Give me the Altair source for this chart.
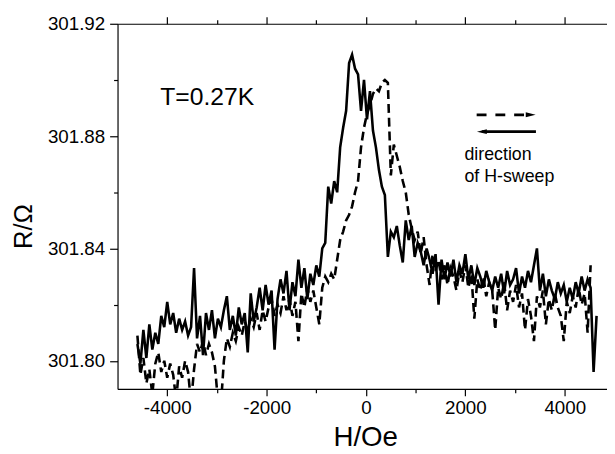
import altair as alt
import pandas as pd

FONT = "Liberation Sans"

# field sweep grid (Oe)
H_START = -4600
H_STEP = 60

# solid curve (sweep towards negative H)
R_solid = [
    301.806, 301.799, 301.811, 301.801, 301.813, 301.804, 301.810, 301.806, 301.816, 301.812,
    301.821, 301.813, 301.817, 301.810, 301.815, 301.811, 301.814, 301.809, 301.812, 301.833,
    301.808, 301.816, 301.802, 301.817, 301.811, 301.818, 301.808, 301.815, 301.812, 301.818,
    301.823, 301.811, 301.816, 301.809, 301.819, 301.813, 301.817, 301.803, 301.824, 301.814,
    301.819, 301.826, 301.818, 301.827, 301.820, 301.825, 301.804, 301.822, 301.829, 301.824,
    301.832, 301.818, 301.828, 301.823, 301.836, 301.826, 301.833, 301.822, 301.831, 301.827,
    301.834, 301.830, 301.840, 301.842, 301.862, 301.856, 301.864, 301.860, 301.876, 301.883,
    301.889, 301.906, 301.909, 301.904, 301.902, 301.889, 301.900, 301.886, 301.896, 301.882,
    301.876, 301.868, 301.862, 301.859, 301.837, 301.846, 301.844, 301.848, 301.841, 301.835,
    301.850, 301.843, 301.848, 301.837, 301.842, 301.839, 301.834, 301.840, 301.836, 301.831,
    301.838, 301.820, 301.836, 301.829, 301.835, 301.830, 301.836, 301.828, 301.834, 301.831,
    301.838, 301.829, 301.834, 301.827, 301.833, 301.830, 301.826, 301.832, 301.828, 301.825,
    301.830, 301.826, 301.831, 301.824, 301.832, 301.827, 301.829, 301.833, 301.824, 301.830,
    301.826, 301.832, 301.828, 301.834, 301.840, 301.825, 301.831, 301.823, 301.829, 301.825,
    301.822, 301.828, 301.824, 301.827, 301.821, 301.826, 301.822, 301.828, 301.824, 301.830,
    301.825, 301.829, 301.826, 301.796, 301.816,
]

# dashed curve (sweep towards positive H)
R_dashed = [
    301.809, 301.795, 301.801, 301.792, 301.797, 301.788, 301.799, 301.803, 301.796, 301.800,
    301.794, 301.799, 301.795, 301.786, 301.798, 301.794, 301.800, 301.796, 301.785, 301.797,
    301.806, 301.803, 301.807, 301.802, 301.806, 301.803, 301.798, 301.786, 301.784, 301.800,
    301.808, 301.805, 301.810, 301.807, 301.812, 301.809, 301.814, 301.811, 301.815, 301.812,
    301.817, 301.811, 301.818, 301.814, 301.819, 301.822, 301.816, 301.820, 301.817, 301.823,
    301.818, 301.822, 301.816, 301.821, 301.807, 301.824, 301.819, 301.826, 301.821, 301.825,
    301.819, 301.813, 301.826, 301.830, 301.828, 301.831, 301.829, 301.836, 301.843, 301.846,
    301.850, 301.852, 301.855, 301.860, 301.864, 301.876, 301.883, 301.888, 301.891, 301.895,
    301.897, 301.896, 301.899, 301.900, 301.899, 301.866, 301.877, 301.873, 301.869, 301.864,
    301.860, 301.852, 301.847, 301.843, 301.846, 301.838, 301.844, 301.834, 301.827, 301.838,
    301.832, 301.836, 301.829, 301.834, 301.827, 301.833, 301.830, 301.825, 301.832, 301.828,
    301.834, 301.826, 301.831, 301.815, 301.829, 301.825, 301.830, 301.823, 301.828, 301.825,
    301.811, 301.826, 301.822, 301.828, 301.818, 301.825, 301.821, 301.827, 301.819, 301.824,
    301.811, 301.822, 301.816, 301.807, 301.823, 301.819, 301.825, 301.813, 301.822, 301.818,
    301.824, 301.819, 301.816, 301.807, 301.821, 301.817, 301.823, 301.819, 301.826, 301.820,
    301.824, 301.810, 301.834,
]

X_MAJOR = [-4000, -2000, 0, 2000, 4000]
X_MINOR = [-3000, -1000, 1000, 3000]
Y_MAJOR = [301.80, 301.84, 301.88, 301.92]
Y_MINOR = [301.82, 301.86, 301.90]
X_DOMAIN = [-5000, 4850]
Y_DOMAIN = [301.79, 301.92]

# annotations
T_LABEL = ["T=0.27K"]
T_H = [-4141]
T_R = [301.8911]
NOTE_TEXT = ["direction", "of H-sweep"]
NOTE_H = [1982, 1982]
NOTE_R = [301.8714, 301.8638]
ARROW_H1 = [2227, 2332]
ARROW_H2 = [3314, 3420]
ARROW_R = [301.8876, 301.8816]
HEAD_H = [3314, 2332]

H_solid = [H_START + H_STEP * i for i in range(len(R_solid))]
H_dashed = [H_START + H_STEP * i for i in range(len(R_dashed))]

df_solid = pd.DataFrame({"H": H_solid, "R": R_solid})
df_dashed = pd.DataFrame({"H": H_dashed, "R": R_dashed})
df_t = pd.DataFrame({"H": T_H, "R": T_R, "text": T_LABEL})
df_note = pd.DataFrame({"H": NOTE_H, "R": NOTE_R, "text": NOTE_TEXT})
df_dash_arrow = pd.DataFrame({"H": [ARROW_H1[0]], "H2": [ARROW_H2[0]], "R": [ARROW_R[0]]})
df_solid_arrow = pd.DataFrame({"H": [ARROW_H1[1]], "H2": [ARROW_H2[1]], "R": [ARROW_R[1]]})
df_head_r = pd.DataFrame({"H": [HEAD_H[0]], "R": [ARROW_R[0]]})
df_head_l = pd.DataFrame({"H": [HEAD_H[1]], "R": [ARROW_R[1]]})

xs = alt.Scale(domain=X_DOMAIN, nice=False, zero=False)
ys = alt.Scale(domain=Y_DOMAIN, nice=False, zero=False)

common = dict(grid=False, domainColor="black", tickColor="black", domainWidth=1.2,
              tickWidth=1.2, labelColor="black", labelFont=FONT, titleFont=FONT,
              titleColor="black", titleFontWeight="normal", labelFlush=False,
              labelOverlap=False)

x_major = alt.Axis(orient="bottom", values=X_MAJOR, title="H/Oe",
                   labelExpr="datum.value < 0 ? '-' + format(-datum.value, 'd') : format(datum.value, 'd')",
                   labelFontSize=19, labelPadding=3, tickSize=7,
                   titleFontSize=28, titleX=251, titleY=57, titleAlign="center",
                   titleBaseline="alphabetic", **common)
x_minor = alt.Axis(orient="bottom", values=X_MINOR, title="", labels=False,
                   domain=False, tickSize=4, **common)
x_top_major = alt.Axis(orient="top", values=X_MAJOR, title="", labels=False,
                       tickSize=7, **common)
x_top_minor = alt.Axis(orient="top", values=X_MINOR, title="", labels=False,
                       domain=False, tickSize=4, **common)
y_major = alt.Axis(orient="left", values=Y_MAJOR, format=".2f", title="R/Ω",
                   labelFontSize=19, labelPadding=5, tickSize=8,
                   titleFontSize=26, titleX=-87, titleY=205, titleAngle=270,
                   titleAlign="center", titleBaseline="alphabetic", **common)
y_minor = alt.Axis(orient="left", values=Y_MINOR, title="", labels=False,
                   domain=False, tickSize=4, **common)

solid = alt.Chart(df_solid).mark_line(color="black", strokeWidth=2.6, clip=True).encode(
    x=alt.X("H:Q", scale=xs, axis=x_major),
    y=alt.Y("R:Q", scale=ys, axis=y_major),
)
dashed = alt.Chart(df_dashed).mark_line(color="black", strokeWidth=2.6, clip=True,
                                        strokeDash=[9, 5]).encode(
    x=alt.X("H:Q", scale=xs, axis=x_minor),
    y=alt.Y("R:Q", scale=ys, axis=y_minor),
)
t_text = alt.Chart(df_t).mark_text(font=FONT, fontSize=25, align="left",
                                   baseline="alphabetic", color="black").encode(
    x=alt.X("H:Q", scale=xs, axis=x_top_major),
    y=alt.Y("R:Q", scale=ys, axis=None),
    text="text:N",
)
note = alt.Chart(df_note).mark_text(font=FONT, fontSize=18, align="left",
                                    baseline="alphabetic", color="black").encode(
    x=alt.X("H:Q", scale=xs, axis=x_top_minor),
    y=alt.Y("R:Q", scale=ys, axis=None),
    text="text:N",
)
arrow_d = alt.Chart(df_dash_arrow).mark_rule(color="black", strokeWidth=2.8,
                                             strokeDash=[10, 9]).encode(
    x=alt.X("H:Q", scale=xs, axis=None), x2="H2:Q",
    y=alt.Y("R:Q", scale=ys, axis=None),
)
arrow_s = alt.Chart(df_solid_arrow).mark_rule(color="black", strokeWidth=2.8).encode(
    x=alt.X("H:Q", scale=xs, axis=None), x2="H2:Q",
    y=alt.Y("R:Q", scale=ys, axis=None),
)
head_r = alt.Chart(df_head_r).mark_point(shape="M-1,-0.5L1,0L-1,0.5Z", filled=True,
                                         color="black", opacity=1, size=100).encode(
    x=alt.X("H:Q", scale=xs, axis=None),
    y=alt.Y("R:Q", scale=ys, axis=None),
)
head_l = alt.Chart(df_head_l).mark_point(shape="M1,-0.5L-1,0L1,0.5Z", filled=True,
                                         color="black", opacity=1, size=100).encode(
    x=alt.X("H:Q", scale=xs, axis=None),
    y=alt.Y("R:Q", scale=ys, axis=None),
)

chart = alt.layer(solid, dashed, t_text, note, arrow_d, arrow_s, head_r, head_l).resolve_scale(
    x="shared", y="shared"
).resolve_axis(
    x="independent", y="independent"
).properties(
    width=496, height=370,
    autosize=alt.AutoSizeParams(type="none"),
    padding={"left": 111, "top": 13, "right": 0, "bottom": 64},
    background="white",
).configure_view(stroke=None)

chart.save("out.html", embed_options={"renderer": "svg", "actions": False})
